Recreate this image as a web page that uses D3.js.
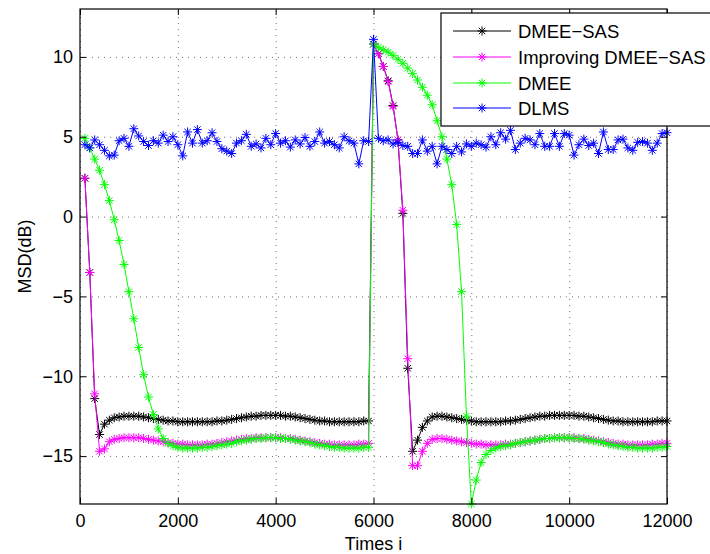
<!DOCTYPE html>
<html>
<head>
<meta charset="utf-8">
<script src="https://cdn.jsdelivr.net/npm/d3@7"></script>
<style>
  body { margin: 0; background: #fff; }
  text { font-family: "Liberation Sans", Arial, Helvetica, sans-serif; }
</style>
</head>
<body>
<div id="chart"></div>
<script>
// iteration grid: one sample every 100 steps, 100 .. 12000
const iters = d3.range(100, 12001, 100);

const dmeeSas = [
  2.4, -3.5, -11.4, -13.65, -13.0, -12.75, -12.6, -12.55, -12.5, -12.5,
  -12.5, -12.5, -12.55, -12.6, -12.65, -12.7, -12.75, -12.8, -12.8, -12.85,
  -12.85, -12.85, -12.85, -12.85, -12.85, -12.85, -12.85, -12.8, -12.8, -12.75,
  -12.7, -12.65, -12.6, -12.55, -12.5, -12.5, -12.45, -12.45, -12.45, -12.45,
  -12.45, -12.5, -12.5, -12.55, -12.6, -12.65, -12.7, -12.75, -12.8, -12.8,
  -12.85, -12.85, -12.85, -12.85, -12.85, -12.85, -12.85, -12.8, -12.8, 10.8,
  10.2, 9.4, 8.5, 6.95, 4.8, 0.2, -9.5, -14.7, -14.0, -13.2,
  -12.8, -12.55, -12.5, -12.5, -12.55, -12.6, -12.65, -12.7, -12.75, -12.8,
  -12.85, -12.85, -12.85, -12.85, -12.85, -12.85, -12.8, -12.8, -12.75, -12.7,
  -12.65, -12.6, -12.55, -12.5, -12.5, -12.45, -12.45, -12.45, -12.45, -12.45,
  -12.45, -12.5, -12.5, -12.55, -12.6, -12.65, -12.7, -12.75, -12.8, -12.8,
  -12.85, -12.85, -12.85, -12.85, -12.85, -12.85, -12.85, -12.8, -12.8, -12.8
];

const improving = [
  2.4, -3.5, -11.1, -14.7, -14.55, -14.1, -13.95, -13.9, -13.85, -13.85,
  -13.85, -13.85, -13.9, -13.95, -14.0, -14.05, -14.1, -14.15, -14.2, -14.25,
  -14.25, -14.3, -14.3, -14.3, -14.3, -14.25, -14.25, -14.2, -14.15, -14.1,
  -14.05, -14.0, -13.95, -13.9, -13.9, -13.85, -13.85, -13.85, -13.85, -13.85,
  -13.85, -13.9, -13.9, -13.95, -14.0, -14.05, -14.1, -14.15, -14.2, -14.25,
  -14.25, -14.3, -14.3, -14.3, -14.3, -14.3, -14.25, -14.25, -14.2, 10.8,
  10.2, 9.4, 8.45, 6.9, 4.8, 0.4, -8.9, -15.6, -15.6, -14.7,
  -14.2, -13.95, -13.9, -13.9, -13.95, -14.0, -14.05, -14.1, -14.15, -14.2,
  -14.25, -14.25, -14.3, -14.3, -14.3, -14.3, -14.25, -14.25, -14.2, -14.15,
  -14.1, -14.05, -14.0, -13.95, -13.9, -13.9, -13.85, -13.85, -13.85, -13.85,
  -13.85, -13.9, -13.9, -13.95, -14.0, -14.05, -14.1, -14.15, -14.2, -14.25,
  -14.25, -14.3, -14.3, -14.3, -14.3, -14.3, -14.25, -14.25, -14.2, -14.2
];

const dmee = [
  4.9, 4.3, 3.6, 2.9, 2.0, 1.0, -0.2, -1.5, -3.0, -4.7,
  -6.4, -8.2, -9.9, -11.3, -12.4, -13.3, -13.9, -14.2, -14.35, -14.45,
  -14.5, -14.5, -14.5, -14.5, -14.45, -14.45, -14.4, -14.35, -14.3, -14.25,
  -14.2, -14.1, -14.05, -14.0, -13.95, -13.9, -13.9, -13.85, -13.85, -13.85,
  -13.9, -13.9, -13.95, -14.0, -14.05, -14.1, -14.15, -14.25, -14.3, -14.35,
  -14.4, -14.45, -14.45, -14.5, -14.5, -14.5, -14.5, -14.45, -14.45, 10.8,
  10.6, 10.45, 10.3, 10.1, 9.85, 9.6, 9.3, 8.95, 8.55, 8.1,
  7.6, 7.0, 6.0, 5.0, 3.6, 2.0, -0.5, -4.7, -12.5, -18.0,
  -16.5, -15.4, -14.9, -14.65, -14.5, -14.4, -14.35, -14.3, -14.2, -14.15,
  -14.1, -14.05, -14.0, -13.95, -13.9, -13.9, -13.85, -13.85, -13.85, -13.85,
  -13.9, -13.9, -13.95, -14.0, -14.05, -14.1, -14.15, -14.25, -14.3, -14.35,
  -14.4, -14.45, -14.45, -14.5, -14.5, -14.5, -14.5, -14.45, -14.45, -14.4
];

const dlms = [
  4.5, 4.3, 4.8, 4.5, 4.15, 3.8, 3.85, 4.75, 4.9, 4.4,
  5.5, 5.05, 4.7, 4.45, 4.75, 4.6, 5.1, 4.7, 5.0, 4.5,
  3.8, 5.3, 4.6, 5.45, 4.6, 4.75, 5.25, 4.7, 4.25, 4.1,
  3.95, 4.6, 4.75, 5.15, 4.4, 4.55, 4.3, 4.9, 4.5, 5.2,
  4.6, 4.75, 4.35, 4.8, 4.55, 4.95, 4.4, 4.7, 5.3, 4.6,
  4.7, 4.5, 4.3, 5.0, 4.75, 4.6, 3.3, 4.75, 4.7, 11.1,
  4.9, 4.75, 4.8, 4.55, 4.65, 4.45, 4.4, 3.95, 3.95, 4.8,
  4.1, 4.4, 3.3, 4.4, 4.2, 3.95, 4.4, 4.05, 4.55, 4.4,
  4.6, 4.5, 4.35, 5.0, 4.5, 5.25, 4.85, 5.4, 4.2, 4.6,
  4.9, 4.8, 4.5, 5.2, 4.4, 4.4, 5.2, 4.4, 5.2, 5.1,
  3.85, 4.5, 4.85, 4.45, 4.6, 3.95, 5.3, 4.2, 4.2, 4.8,
  4.85, 4.3, 4.15, 4.65, 4.7, 4.6, 4.15, 4.6, 5.2, 5.25
];

const seriesNames = ['DMEE\u2212SAS', 'Improving DMEE\u2212SAS', 'DMEE', 'DLMS'];
const seriesColors = ['#000000', '#ff00ff', '#00ff00', '#0000ff'];
const seriesValues = [dmeeSas, improving, dmee, dlms];

const xTicks = [0, 2000, 4000, 6000, 8000, 10000, 12000];
const yTicks = [-15, -10, -5, 0, 5, 10];

const width = 710, height = 554;
const pLeft = 80, pRight = 667, pTop = 9, pBottom = 504;

const svg = d3.select('#chart')
              .append('svg')
              .attr('width', width)
              .attr('height', height);

let scaleX = d3.scaleLinear().domain([0, 12000]).range([pLeft, pRight]);
let scaleY = d3.scaleLinear().domain([-18, 13]).range([pBottom, pTop]);

// dotted grid
let gridX = svg.append('g')
               .attr('transform', 'translate(0,' + pBottom + ')')
               .call(d3.axisBottom(scaleX).tickValues(xTicks).tickSize(-(pBottom - pTop)).tickFormat(''));
let gridY = svg.append('g')
               .attr('transform', 'translate(' + pLeft + ',0)')
               .call(d3.axisLeft(scaleY).tickValues(yTicks).tickSize(-(pRight - pLeft)).tickFormat(''));
[gridX, gridY].forEach(g => {
    g.select('.domain').remove();
    g.selectAll('line')
     .attr('stroke', '#707070')
     .attr('stroke-width', 1)
     .attr('stroke-dasharray', '1,5');
});

// curves
let line = d3.line()
             .x((d, i) => scaleX(iters[i]))
             .y(d => scaleY(d));

const star = 'M-4.5,0H4.5M0,-4.5V4.5M-3.2,-3.2L3.2,3.2M-3.2,3.2L3.2,-3.2';

let plot = svg.append('g');

seriesValues.forEach((vals, k) => {
    plot.append('path')
        .datum(vals)
        .attr('fill', 'none')
        .attr('stroke', seriesColors[k])
        .attr('stroke-width', 1)
        .attr('d', line);

    plot.selectAll('.m' + k)
        .data(vals)
        .enter()
        .append('path')
        .attr('class', 'm' + k)
        .attr('d', star)
        .attr('transform', (d, i) => 'translate(' + scaleX(iters[i]) + ',' + scaleY(d) + ')')
        .attr('fill', 'none')
        .attr('stroke', seriesColors[k])
        .attr('stroke-width', 1);
});

// box and ticks
svg.append('rect')
   .attr('x', pLeft)
   .attr('y', pTop)
   .attr('width', pRight - pLeft)
   .attr('height', pBottom - pTop)
   .attr('fill', 'none')
   .attr('stroke', '#000')
   .attr('stroke-width', 1.2);

let xAxis = svg.append('g')
               .attr('transform', 'translate(0,' + pBottom + ')')
               .call(d3.axisBottom(scaleX).tickValues(xTicks).tickSize(-6).tickPadding(10.5)
                       .tickFormat(d3.format('d')));
let yAxis = svg.append('g')
               .attr('transform', 'translate(' + pLeft + ',0)')
               .call(d3.axisLeft(scaleY).tickValues(yTicks).tickSize(-6).tickPadding(7)
                       .tickFormat(d => d < 0 ? '\u2212' + Math.abs(d) : d));
let xTop = svg.append('g')
              .attr('transform', 'translate(0,' + pTop + ')')
              .call(d3.axisTop(scaleX).tickValues(xTicks).tickSize(-6).tickFormat(''));
let yRight = svg.append('g')
                .attr('transform', 'translate(' + pRight + ',0)')
                .call(d3.axisRight(scaleY).tickValues(yTicks).tickSize(-6).tickFormat(''));

[xAxis, yAxis, xTop, yRight].forEach(g => {
    g.select('.domain').remove();
    g.selectAll('line').attr('stroke', '#000');
    g.selectAll('text')
     .style('font-family', '"Liberation Sans", Arial, Helvetica, sans-serif')
     .style('font-size', '18px')
     .attr('fill', '#000');
});

// axis titles
svg.append('text')
   .attr('x', (pLeft + pRight) / 2)
   .attr('y', 549.5)
   .style('text-anchor', 'middle')
   .style('font-size', '18px')
   .text('Times i');

svg.append('text')
   .attr('transform', 'translate(30.5,' + (pTop + pBottom) / 2 + ') rotate(-90)')
   .style('text-anchor', 'middle')
   .style('font-size', '18px')
   .text('MSD(dB)');

// legend
let legend = svg.append('g');

legend.append('rect')
      .attr('x', 441)
      .attr('y', 13)
      .attr('width', 290)
      .attr('height', 113)
      .attr('fill', '#fff')
      .attr('stroke', '#000')
      .attr('stroke-width', 1.2);

const legendRows = [31, 57, 83, 108];

seriesNames.forEach((name, k) => {
    let yy = legendRows[k];
    legend.append('line')
          .attr('x1', 453).attr('x2', 511)
          .attr('y1', yy).attr('y2', yy)
          .attr('stroke', seriesColors[k])
          .attr('stroke-width', 1);
    legend.append('path')
          .attr('d', star)
          .attr('transform', 'translate(482,' + yy + ')')
          .attr('fill', 'none')
          .attr('stroke', seriesColors[k])
          .attr('stroke-width', 1);
    legend.append('text')
          .attr('x', 518)
          .attr('y', yy + 6.5)
          .style('font-size', '18.5px')
          .text(name);
});
</script>
</body>
</html>
